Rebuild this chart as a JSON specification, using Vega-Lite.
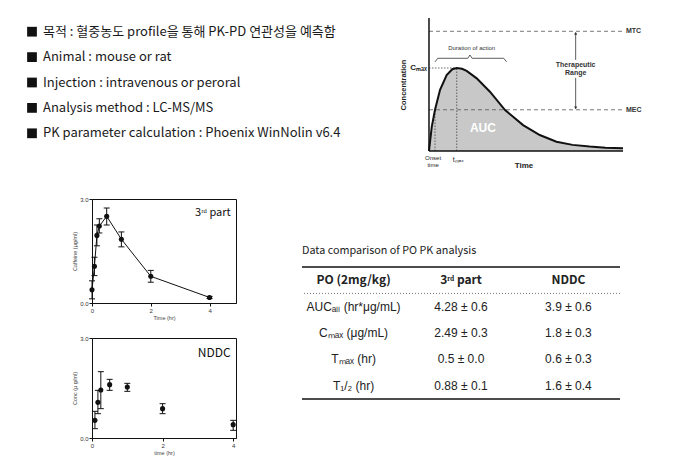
{
  "$schema": "https://vega.github.io/schema/vega-lite/v6.json",
  "background": "white",
  "padding": 0,
  "columns": 3,
  "spacing": 0,
  "bounds": "flush",
  "align": "each",
  "config": {
    "view": {"stroke": null},
    "font": "Liberation Sans",
    "axis": {
      "grid": false,
      "domainColor": "#111",
      "tickColor": "#111",
      "tickSize": 3,
      "labelFontSize": 6,
      "labelColor": "#333",
      "labelPadding": 1,
      "labelOverlap": false,
      "labelFlush": false,
      "titleFontSize": 5.5,
      "titleFontWeight": "normal",
      "titleColor": "#444",
      "titlePadding": 2
    }
  },
  "datasets": {
    "one": [{"k": 1}],
    "bullets": [
      {"topic": "목적", "text": "목적 : 혈중농도 profile을 통해 PK-PD 연관성을 예측함"},
      {"topic": "Animal", "text": "Animal : mouse or rat"},
      {"topic": "Injection", "text": "Injection : intravenous or peroral"},
      {"topic": "Analysis", "text": "Analysis method : LC-MS/MS"},
      {"topic": "PK", "text": "PK parameter calculation : Phoenix WinNolin v6.4"}
    ],
    "curve": [
      {"t": 0, "c": 0}, {"t": 0.14, "c": 18}, {"t": 0.31, "c": 31}, {"t": 0.57, "c": 46},
      {"t": 0.91, "c": 57}, {"t": 1.2, "c": 61.5}, {"t": 1.43, "c": 62.4}, {"t": 1.7, "c": 61.8},
      {"t": 1.94, "c": 60.2}, {"t": 2.46, "c": 54.6}, {"t": 3.14, "c": 44.6}, {"t": 3.92, "c": 30.8},
      {"t": 4.85, "c": 19.5}, {"t": 5.71, "c": 12}, {"t": 6.57, "c": 7}, {"t": 7.4, "c": 4.6},
      {"t": 8.28, "c": 3.3}, {"t": 9.1, "c": 2.5}, {"t": 10, "c": 2}
    ],
    "brace": [
      {"t": 0.31, "c": 67}, {"t": 0.45, "c": 69.7}, {"t": 2.0, "c": 69.7}, {"t": 2.11, "c": 72.2},
      {"t": 2.22, "c": 69.7}, {"t": 3.85, "c": 69.7}, {"t": 4.0, "c": 67}
    ],
    "part3": [
      {"time": 0, "mean": 0.38, "lo": 0.12, "hi": 0.64},
      {"time": 0.083, "mean": 1.06, "lo": 0.79, "hi": 1.32},
      {"time": 0.167, "mean": 1.95, "lo": 1.65, "hi": 2.25},
      {"time": 0.25, "mean": 2.22, "lo": 2.02, "hi": 2.43},
      {"time": 0.5, "mean": 2.5, "lo": 2.25, "hi": 2.74},
      {"time": 1, "mean": 1.84, "lo": 1.62, "hi": 2.05},
      {"time": 2, "mean": 0.77, "lo": 0.6, "hi": 0.94},
      {"time": 4, "mean": 0.16, "lo": 0.13, "hi": 0.19}
    ],
    "nddc": [
      {"time": 0.083, "mean": 0.53, "lo": 0.28, "hi": 0.8},
      {"time": 0.167, "mean": 1.07, "lo": 0.73, "hi": 1.43},
      {"time": 0.25, "mean": 1.44, "lo": 0.88, "hi": 1.99},
      {"time": 0.5, "mean": 1.6, "lo": 1.43, "hi": 1.76},
      {"time": 1, "mean": 1.53, "lo": 1.4, "hi": 1.64},
      {"time": 2, "mean": 0.88, "lo": 0.73, "hi": 1.03},
      {"time": 4, "mean": 0.4, "lo": 0.23, "hi": 0.53}
    ],
    "table": [
      {"row": "header", "col": "label", "text": "PO  (2mg/kg)"},
      {"row": "header", "col": "part3", "text": "3ʳᵈ part"},
      {"row": "header", "col": "nddc", "text": "NDDC"},
      {"row": "AUC", "col": "label", "text": "AUCₐₗₗ (hr*μg/mL)"},
      {"row": "AUC", "col": "part3", "text": "4.28 ± 0.6"},
      {"row": "AUC", "col": "nddc", "text": "3.9 ± 0.6"},
      {"row": "Cmax", "col": "label", "text": "Cₘₐₓ (μg/mL)"},
      {"row": "Cmax", "col": "part3", "text": "2.49 ± 0.3"},
      {"row": "Cmax", "col": "nddc", "text": "1.8 ± 0.3"},
      {"row": "Tmax", "col": "label", "text": "Tₘₐₓ (hr)"},
      {"row": "Tmax", "col": "part3", "text": "0.5 ± 0.0"},
      {"row": "Tmax", "col": "nddc", "text": "0.6 ± 0.3"},
      {"row": "Thalf", "col": "label", "text": "T₁/₂ (hr)"},
      {"row": "Thalf", "col": "part3", "text": "0.88 ± 0.1"},
      {"row": "Thalf", "col": "nddc", "text": "1.6 ± 0.4"}
    ]
  },
  "concat": [
    {
      "width": 92,
      "height": 199,
      "data": {"name": "bullets"},
      "encoding": {
        "y": {"field": "topic", "type": "nominal", "sort": null, "scale": {"type": "point", "range": [31.7, 133.3], "padding": 0}, "axis": null}
      },
      "layer": [
        {
          "mark": {"type": "point", "shape": "square", "filled": true, "color": "#111", "size": 95, "opacity": 1},
          "encoding": {"x": {"datum": "marker", "type": "nominal", "scale": {"type": "point", "domain": ["marker", "label"], "range": [32, 43], "padding": 0}, "axis": null}}
        },
        {
          "mark": {"type": "text", "align": "left", "baseline": "middle", "font": "Noto Sans CJK KR", "fontSize": 13, "color": "#1a1a1a"},
          "encoding": {"x": {"datum": "label", "type": "nominal"}, "text": {"field": "text"}}
        }
      ]
    },
    {"width": 210, "height": 199, "data": {"name": "one"}, "mark": {"type": "text", "text": ""}},
    {
      "width": 378,
      "height": 199,
      "layer": [
        {
          "data": {"name": "curve"},
          "mark": {"type": "area", "color": "#c8c8c8"},
          "encoding": {
            "x": {"field": "t", "type": "quantitative", "scale": {"domain": [-6.546, 12.938], "nice": false, "zero": false}, "axis": null},
            "y": {"field": "c", "type": "quantitative", "scale": {"domain": [-36.09, 113.53], "nice": false, "zero": false}, "axis": null},
            "y2": {"datum": 0}
          }
        },
        {
          "data": {"name": "one"},
          "mark": {"type": "rule", "color": "#555", "strokeWidth": 0.8, "strokeDash": [4, 3]},
          "encoding": {"x": {"datum": 0}, "x2": {"datum": 10}, "y": {"datum": 90}}
        },
        {
          "data": {"name": "one"},
          "mark": {"type": "rule", "color": "#555", "strokeWidth": 0.8, "strokeDash": [4, 3]},
          "encoding": {"x": {"datum": 0}, "x2": {"datum": 10}, "y": {"datum": 31}}
        },
        {
          "data": {"name": "one"},
          "mark": {"type": "rule", "color": "#444", "strokeWidth": 0.8, "strokeDash": [1.5, 1.5]},
          "encoding": {"x": {"datum": 0}, "x2": {"datum": 1.43}, "y": {"datum": 62.4}}
        },
        {
          "data": {"name": "one"},
          "mark": {"type": "rule", "color": "#444", "strokeWidth": 0.8, "strokeDash": [1.5, 1.5]},
          "encoding": {"x": {"datum": 1.43}, "y": {"datum": 0}, "y2": {"datum": 62.4}}
        },
        {
          "data": {"name": "one"},
          "mark": {"type": "rule", "color": "#444", "strokeWidth": 0.8, "strokeDash": [1.5, 1.5]},
          "encoding": {"x": {"datum": 0.31}, "y": {"datum": 0}, "y2": {"datum": 31}}
        },
        {
          "data": {"name": "curve"},
          "mark": {"type": "line", "color": "#111", "strokeWidth": 2},
          "encoding": {"x": {"field": "t", "type": "quantitative"}, "y": {"field": "c", "type": "quantitative"}}
        },
        {
          "data": {"name": "brace"},
          "mark": {"type": "line", "color": "#333", "strokeWidth": 0.8},
          "encoding": {"x": {"field": "t", "type": "quantitative"}, "y": {"field": "c", "type": "quantitative"}}
        },
        {
          "data": {"name": "one"},
          "mark": {"type": "rule", "color": "#111", "strokeWidth": 1.5},
          "encoding": {"x": {"datum": 0}, "y": {"datum": 0}, "y2": {"datum": 100}}
        },
        {
          "data": {"name": "one"},
          "mark": {"type": "rule", "color": "#111", "strokeWidth": 1.5},
          "encoding": {"x": {"datum": 0}, "x2": {"datum": 10}, "y": {"datum": 0}}
        },
        {
          "data": {"name": "one"},
          "mark": {"type": "rule", "color": "#333", "strokeWidth": 0.8},
          "encoding": {"x": {"datum": 7.56}, "y": {"datum": 68.5}, "y2": {"datum": 89}}
        },
        {
          "data": {"name": "one"},
          "mark": {"type": "rule", "color": "#333", "strokeWidth": 0.8},
          "encoding": {"x": {"datum": 7.56}, "y": {"datum": 32}, "y2": {"datum": 55}}
        },
        {
          "data": {"name": "one"},
          "mark": {"type": "point", "shape": "triangle-up", "filled": true, "color": "#333", "size": 10, "opacity": 1},
          "encoding": {"x": {"datum": 7.56}, "y": {"datum": 88.5}}
        },
        {
          "data": {"name": "one"},
          "mark": {"type": "point", "shape": "triangle-down", "filled": true, "color": "#333", "size": 10, "opacity": 1},
          "encoding": {"x": {"datum": 7.56}, "y": {"datum": 32.5}}
        },
        {
          "data": {"name": "one"},
          "mark": {"type": "text", "text": "AUC", "fontSize": 12, "fontWeight": "bold", "color": "white", "align": "center", "baseline": "middle"},
          "encoding": {"x": {"datum": 2.78}, "y": {"datum": 17.3}}
        },
        {
          "data": {"name": "one"},
          "mark": {"type": "text", "text": "Duration of action", "fontSize": 6, "color": "#333", "align": "center", "baseline": "middle"},
          "encoding": {"x": {"datum": 2.2}, "y": {"datum": 77.7}}
        },
        {
          "data": {"name": "one"},
          "mark": {"type": "text", "text": ["Therapeutic", "Range"], "fontSize": 7, "fontWeight": "bold", "color": "#333", "align": "center", "baseline": "middle", "lineHeight": 8},
          "encoding": {"x": {"datum": 7.56}, "y": {"datum": 64.5}}
        },
        {
          "data": {"name": "one"},
          "mark": {"type": "text", "text": "MTC", "fontSize": 7, "fontWeight": "bold", "color": "#333", "align": "left", "baseline": "middle"},
          "encoding": {"x": {"datum": 10.15}, "y": {"datum": 90}}
        },
        {
          "data": {"name": "one"},
          "mark": {"type": "text", "text": "MEC", "fontSize": 7, "fontWeight": "bold", "color": "#333", "align": "left", "baseline": "middle"},
          "encoding": {"x": {"datum": 10.15}, "y": {"datum": 31}}
        },
        {
          "data": {"name": "one"},
          "mark": {"type": "text", "text": "Cₘₐₓ", "fontSize": 8, "fontWeight": "bold", "color": "#222", "align": "right", "baseline": "middle"},
          "encoding": {"x": {"datum": -0.1}, "y": {"datum": 62.4}}
        },
        {
          "data": {"name": "one"},
          "mark": {"type": "text", "text": "tₘₐₓ", "fontSize": 7, "color": "#222", "align": "center", "baseline": "middle"},
          "encoding": {"x": {"datum": 1.5}, "y": {"datum": -6.8}}
        },
        {
          "data": {"name": "one"},
          "mark": {"type": "text", "text": ["Onset", "time"], "fontSize": 6, "color": "#222", "align": "center", "baseline": "top", "lineHeight": 7},
          "encoding": {"x": {"datum": 0.21}, "y": {"datum": -3}}
        },
        {
          "data": {"name": "one"},
          "mark": {"type": "text", "text": "Time", "fontSize": 8, "fontWeight": "bold", "color": "#222", "align": "center", "baseline": "middle"},
          "encoding": {"x": {"datum": 4.9}, "y": {"datum": -11.3}}
        },
        {
          "data": {"name": "one"},
          "mark": {"type": "text", "text": "Concentration", "fontSize": 7.5, "fontWeight": "bold", "color": "#222", "align": "center", "baseline": "middle", "angle": 270},
          "encoding": {"x": {"datum": -1.29}, "y": {"datum": 49.6}}
        }
      ]
    },
    {"width": 92, "height": 139, "data": {"name": "one"}, "mark": {"type": "text", "text": ""}},
    {
      "width": 144,
      "height": 104,
      "view": {"stroke": "#111", "strokeWidth": 1},
      "layer": [
        {
          "data": {"name": "part3"},
          "mark": {"type": "line", "color": "#111", "strokeWidth": 1},
          "encoding": {
            "x": {"field": "time", "type": "quantitative", "scale": {"domain": [0, 4.9], "nice": false, "zero": false}, "axis": {"values": [0, 1, 2, 3, 4], "title": "Time (hr)", "labelOverlap": false, "labelFlush": false}},
            "y": {"field": "mean", "type": "quantitative", "scale": {"domain": [0, 3], "nice": false}, "axis": {"values": [0, 0.5, 1, 1.5, 2, 2.5, 3], "format": ".1f", "title": "Caffeine (μg/ml)", "labelOverlap": false, "labelFlush": false}}
          }
        },
        {
          "data": {"name": "part3"},
          "mark": {"type": "rule", "color": "#111", "strokeWidth": 1},
          "encoding": {"x": {"field": "time", "type": "quantitative"}, "y": {"field": "lo", "type": "quantitative"}, "y2": {"field": "hi"}}
        },
        {
          "data": {"name": "part3"},
          "mark": {"type": "tick", "orient": "horizontal", "color": "#111", "size": 6, "thickness": 1, "opacity": 1},
          "encoding": {"x": {"field": "time", "type": "quantitative"}, "y": {"field": "lo", "type": "quantitative"}}
        },
        {
          "data": {"name": "part3"},
          "mark": {"type": "tick", "orient": "horizontal", "color": "#111", "size": 6, "thickness": 1, "opacity": 1},
          "encoding": {"x": {"field": "time", "type": "quantitative"}, "y": {"field": "hi", "type": "quantitative"}}
        },
        {
          "data": {"name": "part3"},
          "mark": {"type": "point", "filled": true, "color": "#111", "size": 26, "opacity": 1},
          "encoding": {"x": {"field": "time", "type": "quantitative"}, "y": {"field": "mean", "type": "quantitative"}}
        },
        {
          "data": {"name": "one"},
          "mark": {"type": "text", "text": "3ʳᵈ part", "align": "right", "baseline": "middle", "fontSize": 11, "font": "Noto Sans CJK KR", "color": "#111"},
          "encoding": {"x": {"datum": 4.72}, "y": {"datum": 2.59}}
        }
      ]
    },
    {
      "width": 318,
      "height": 139,
      "title": {"text": "Data comparison of PO PK analysis", "anchor": "start", "frame": "group", "fontSize": 10.8, "fontWeight": "normal", "font": "Noto Sans CJK KR", "color": "#222", "baseline": "middle", "offset": -63},
      "layer": [
        {
          "data": {"name": "table"},
          "transform": [{"filter": "datum.row === 'header'"}],
          "mark": {"type": "text", "fontWeight": "bold", "fontSize": 12, "font": "Noto Sans CJK KR", "color": "#222", "baseline": "middle"},
          "encoding": {
            "x": {"field": "col", "type": "nominal", "scale": {"type": "point", "domain": ["label", "part3", "nddc"], "padding": 0.48}, "axis": null},
            "y": {"field": "row", "type": "nominal", "scale": {"type": "band", "domain": ["header", "AUC", "Cmax", "Tmax", "Thalf"], "range": [68, 200], "paddingInner": 0, "paddingOuter": 0}, "axis": null},
            "text": {"field": "text"}
          }
        },
        {
          "data": {"name": "table"},
          "transform": [{"filter": "datum.row !== 'header'"}],
          "mark": {"type": "text", "fontSize": 12, "color": "#222", "baseline": "middle"},
          "encoding": {
            "x": {"field": "col", "type": "nominal"},
            "y": {"field": "row", "type": "nominal"},
            "text": {"field": "text"}
          }
        },
        {
          "data": {"name": "one"},
          "mark": {"type": "rule", "color": "#111", "strokeWidth": 1.5},
          "encoding": {"y": {"datum": "header", "type": "nominal", "bandPosition": 0}}
        },
        {
          "data": {"name": "one"},
          "mark": {"type": "rule", "color": "#777", "strokeWidth": 1, "strokeDash": [1, 2]},
          "encoding": {"y": {"datum": "header", "type": "nominal", "bandPosition": 1}}
        },
        {
          "data": {"name": "one"},
          "mark": {"type": "rule", "color": "#111", "strokeWidth": 1.5},
          "encoding": {"y": {"datum": "Thalf", "type": "nominal", "bandPosition": 1}}
        }
      ]
    },
    {"width": 92, "height": 100, "data": {"name": "one"}, "mark": {"type": "text", "text": ""}},
    {
      "width": 144,
      "height": 100,
      "view": {"stroke": "#111", "strokeWidth": 1},
      "layer": [
        {
          "data": {"name": "nddc"},
          "mark": {"type": "rule", "color": "#111", "strokeWidth": 1},
          "encoding": {
            "x": {"field": "time", "type": "quantitative", "scale": {"domain": [0, 4.08], "nice": false, "zero": false}, "axis": {"values": [0, 1, 2, 3, 4], "title": "time (hr)", "labelOverlap": false, "labelFlush": false}},
            "y": {"field": "lo", "type": "quantitative", "scale": {"domain": [0, 3], "nice": false}, "axis": {"values": [0, 0.5, 1, 1.5, 2, 2.5, 3], "format": ".1f", "title": "Conc (μ g/ml)", "labelOverlap": false, "labelFlush": false}},
            "y2": {"field": "hi"}
          }
        },
        {
          "data": {"name": "nddc"},
          "mark": {"type": "tick", "orient": "horizontal", "color": "#111", "size": 6, "thickness": 1, "opacity": 1},
          "encoding": {"x": {"field": "time", "type": "quantitative"}, "y": {"field": "lo", "type": "quantitative"}}
        },
        {
          "data": {"name": "nddc"},
          "mark": {"type": "tick", "orient": "horizontal", "color": "#111", "size": 6, "thickness": 1, "opacity": 1},
          "encoding": {"x": {"field": "time", "type": "quantitative"}, "y": {"field": "hi", "type": "quantitative"}}
        },
        {
          "data": {"name": "nddc"},
          "mark": {"type": "point", "filled": true, "color": "#111", "size": 26, "opacity": 1},
          "encoding": {"x": {"field": "time", "type": "quantitative"}, "y": {"field": "mean", "type": "quantitative"}}
        },
        {
          "data": {"name": "one"},
          "mark": {"type": "text", "text": "NDDC", "align": "right", "baseline": "middle", "fontSize": 12, "font": "Noto Sans CJK KR", "color": "#111"},
          "encoding": {"x": {"datum": 3.93}, "y": {"datum": 2.54}}
        }
      ]
    },
    {"width": 378, "height": 120, "data": {"name": "one"}, "mark": {"type": "text", "text": ""}}
  ]
}
